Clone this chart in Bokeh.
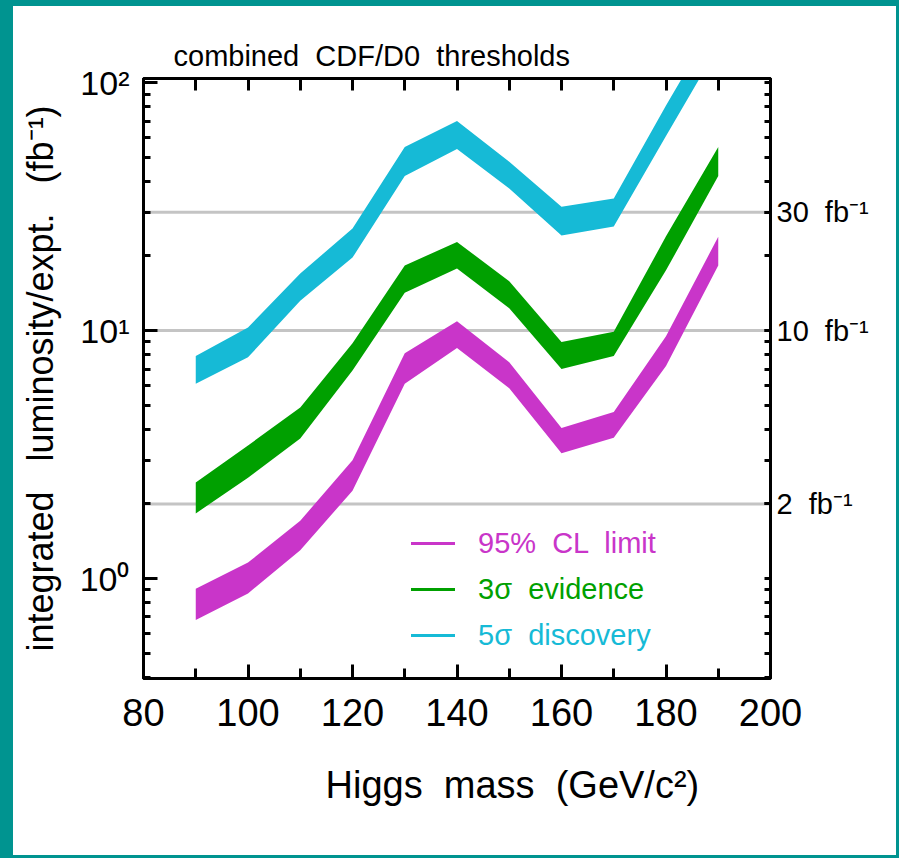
from bokeh.plotting import figure
from bokeh.models import (Range1d, FixedTicker, LinearAxis, LogAxis, Span,
                          Legend, LegendItem, Title)
from bokeh.embed import file_html
from bokeh.resources import INLINE

# ---- data ----
mass = [90, 100, 110, 120, 130, 140, 150, 160, 170, 180, 190]
cl95_lo = [0.68, 0.87, 1.30, 2.26, 6.1, 8.5, 5.85, 3.2, 3.7, 7.2, 18.3]
cl95_hi = [0.91, 1.16, 1.71, 3.0, 8.1, 10.9, 7.45, 4.05, 4.7, 9.5, 23.9]
ev3_lo = [1.83, 2.55, 3.67, 6.9, 14.2, 17.8, 12.3, 7.0, 7.9, 17.5, 42.0]
ev3_hi = [2.44, 3.44, 4.9, 8.9, 18.3, 22.8, 15.8, 9.0, 9.9, 24.0, 55.0]
disc5_lo = [6.1, 7.8, 13.2, 19.7, 42.0, 54.0, 37.4, 24.2, 26.3, 61.0, 140.0]
disc5_hi = [7.9, 10.3, 17.0, 25.8, 55.0, 70.0, 48.0, 31.6, 34.1, 81.0, 185.0]

series_labels = ["95%  CL  limit", "3\u03c3  evidence", "5\u03c3  discovery"]

x_ticks = [80, 100, 120, 140, 160, 180, 200]
x_minor = [90, 110, 130, 150, 170, 190]
y_ticks = [1, 10, 100]
y_tick_labels = ["10\u2070", "10\u00b9", "10\u00b2"]
y_minor = [0.4, 0.5, 0.6, 0.7, 0.8, 0.9, 2, 3, 4, 5, 6, 7, 8, 9,
           20, 30, 40, 50, 60, 70, 80, 90]
ref_lumis = [2, 10, 30]
ref_labels = ["2\u00a0 fb\u207b\u00b9", "10\u00a0 fb\u207b\u00b9", "30\u00a0 fb\u207b\u00b9"]

MAG = "#C935C9"
GRN = "#00A000"
CYN = "#16BAD6"
TEAL = "#009490"
FONT = "Liberation Sans"

p = figure(width=899, height=858,
           x_range=Range1d(80, 200), y_range=Range1d(0.395, 104),
           y_axis_type="log", output_backend="svg", toolbar_location=None,
           min_border_left=130, min_border_right=142,
           min_border_top=72, min_border_bottom=186,
           background_fill_color="white", border_fill_color="white",
           styles={"border-style": "solid", "border-color": TEAL,
                   "border-width": "6px 3px 3px 13px"})
p.grid.visible = False
p.outline_line_color = "black"
p.outline_line_width = 3

# title
p.title.text = "combined\u00a0 CDF/D0\u00a0 thresholds"
p.title.text_font = FONT
p.title.text_font_size = "29px"
p.title.text_font_style = "normal"
p.title.text_color = "black"
p.title.align = "left"
p.title.offset = 30
p.title.standoff = 14

def style_axis(ax, label_size):
    ax.axis_line_width = 3
    ax.axis_line_color = "black"
    ax.major_tick_line_width = 3
    ax.minor_tick_line_width = 3
    ax.major_tick_out = 0
    ax.minor_tick_out = 0
    ax.major_label_text_font = FONT
    ax.major_label_text_font_size = label_size
    ax.major_label_text_color = "black"
    ax.axis_label_text_font = FONT
    ax.axis_label_text_font_style = "normal"
    ax.axis_label_text_color = "black"

# bottom axis
xa = p.xaxis[0]
xa.ticker = FixedTicker(ticks=x_ticks, minor_ticks=x_minor)
style_axis(xa, "38px")
xa.major_tick_in = 14
xa.minor_tick_in = 10
xa.major_label_standoff = 20

# x axis title, placed like the reference (right of centre)
xt = Title(text="Higgs\u00a0 mass\u00a0 (GeV/c\u00b2)", align="left", offset=182,
           text_font=FONT, text_font_size="38px", text_font_style="normal",
           text_color="black", standoff=66)
p.add_layout(xt, "below")

# top axis: ticks only
ta = LinearAxis(ticker=FixedTicker(ticks=[], minor_ticks=x_ticks + x_minor))
style_axis(ta, "10px")
ta.minor_tick_in = 12
ta.major_label_standoff = 0
p.add_layout(ta, "above")

# left axis
ya = p.yaxis[0]
ya.ticker = FixedTicker(ticks=y_ticks, minor_ticks=y_minor)
style_axis(ya, "34px")
ya.major_label_overrides = dict(zip(y_ticks, y_tick_labels))
ya.major_tick_in = 14
ya.minor_tick_in = 7
ya.major_label_standoff = 14
ya.axis_label = "integrated\u00a0\u00a0 luminosity/expt.\u00a0\u00a0 (fb\u207b\u00b9)"
ya.axis_label_text_font_size = "36px"
ya.axis_label_standoff = 16

# right axis
ra = LogAxis(ticker=FixedTicker(ticks=ref_lumis, minor_ticks=y_minor + y_ticks))
style_axis(ra, "29px")
ra.major_label_overrides = dict(zip(ref_lumis, ref_labels))
ra.major_tick_in = 6
ra.minor_tick_in = 6
ra.major_label_standoff = 6
p.add_layout(ra, "right")

# reference luminosity lines
for v in ref_lumis:
    p.add_layout(Span(location=v, dimension="width", line_color="#C4C4C4",
                      line_width=3, level="underlay"))

# bands
r_cl = p.varea(x=mass, y1=cl95_lo, y2=cl95_hi, fill_color=MAG)
r_ev = p.varea(x=mass, y1=ev3_lo, y2=ev3_hi, fill_color=GRN)
r_di = p.varea(x=mass, y1=disc5_lo, y2=disc5_hi, fill_color=CYN)

# legends (one per series so text colour can follow the series)
renderers = [r_cl, r_ev, r_di]
colors = [MAG, GRN, CYN]
offsets = [112, 66, 20]
for lab, col, rend, off in zip(series_labels, colors, renderers, offsets):
    lg = Legend(items=[LegendItem(label=lab, renderers=[rend])],
                location=(262, off), padding=0, margin=0,
                glyph_width=55, glyph_height=4, label_height=46,
                label_standoff=18, spacing=0,
                label_text_font=FONT, label_text_font_size="29px",
                label_text_color=col,
                border_line_alpha=0, background_fill_alpha=0)
    p.add_layout(lg)

open("out.html", "w").write(file_html(p, INLINE))
